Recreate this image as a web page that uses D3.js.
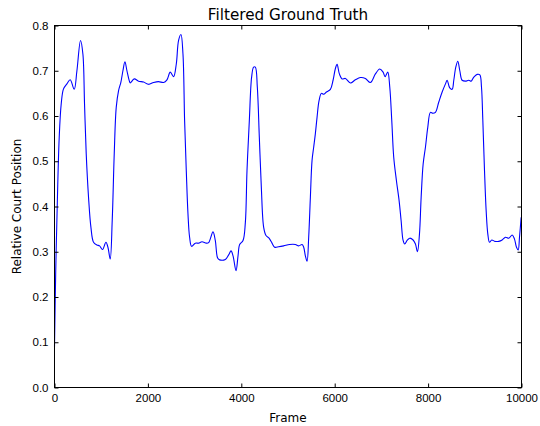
<!DOCTYPE html>
<html>
<head>
<meta charset="utf-8">
<script src="https://cdn.jsdelivr.net/npm/d3@7"></script>
<style>
  body { margin: 0; background: #fff; }
  svg { font-family: "DejaVu Sans", sans-serif; }
</style>
</head>
<body>
<div id="chart"></div>
<script>
// data (frame, relative court position)
const frames = [
  0, 25, 51, 101, 144, 193, 266, 336, 422, 480, 557, 608, 643, 679, 729, 780, 836, 908, 965, 1028,
  1101, 1144, 1193, 1236, 1279, 1322, 1372, 1422, 1465, 1508, 1551, 1607, 1622, 1708, 1800, 1907,
  2014, 2121, 2228, 2336, 2408, 2479, 2550, 2608, 2657, 2708, 2751, 2786, 2822, 2858, 2893, 2936,
  3015, 3086, 3158, 3251, 3300, 3394, 3443, 3493, 3536, 3658, 3729, 3780, 3823, 3887, 3930, 3965,
  4037, 4087, 4122, 4172, 4221, 4264, 4300, 4343, 4386, 4429, 4479, 4529, 4594, 4658, 4714, 4800,
  4907, 5035, 5157, 5229, 5301, 5336, 5372, 5408, 5443, 5479, 5515, 5550, 5586, 5622, 5665, 5715,
  5764, 5822, 5908, 5965, 6015, 6051, 6100, 6158, 6229, 6336, 6443, 6550, 6657, 6765, 6872, 6964,
  7036, 7079, 7136, 7179, 7222, 7264, 7322, 7379, 7422, 7465, 7500, 7551, 7607, 7679, 7729, 7772,
  7815, 7851, 7894, 7943, 7993, 8050, 8100, 8157, 8229, 8301, 8372, 8408, 8464, 8515, 8550, 8593,
  8636, 8679, 8729, 8800, 8872, 8922, 8979, 9051, 9108, 9143, 9172, 9208, 9243, 9279, 9315, 9364,
  9429, 9514, 9586, 9657, 9729, 9800, 9850, 9893, 9929, 9957, 9993
];
const positions = [
  0.09, 0.25, 0.369, 0.553, 0.627, 0.660, 0.671, 0.680, 0.659, 0.700, 0.767, 0.737, 0.627, 0.517, 0.420, 0.354, 0.321, 0.315, 0.313, 0.305,
  0.321, 0.310, 0.284, 0.369, 0.516, 0.619, 0.656, 0.675, 0.700, 0.720, 0.700, 0.676, 0.673, 0.682, 0.677, 0.675,
  0.670, 0.674, 0.676, 0.674, 0.680, 0.697, 0.687, 0.715, 0.767, 0.780, 0.737, 0.590, 0.479, 0.384, 0.332, 0.312,
  0.319, 0.319, 0.322, 0.319, 0.320, 0.344, 0.325, 0.286, 0.282, 0.283, 0.293, 0.302, 0.291, 0.258, 0.291, 0.316,
  0.325, 0.365, 0.479, 0.590, 0.686, 0.708, 0.708, 0.664, 0.553, 0.442, 0.354, 0.336, 0.330, 0.319, 0.310, 0.311,
  0.313, 0.316, 0.316, 0.313, 0.316, 0.310, 0.291, 0.279, 0.332, 0.420, 0.502, 0.531, 0.561, 0.597, 0.634, 0.650,
  0.648, 0.653, 0.659, 0.679, 0.705, 0.714, 0.693, 0.682, 0.683, 0.673, 0.680, 0.685, 0.683, 0.674, 0.693, 0.704,
  0.697, 0.687, 0.697, 0.664, 0.590, 0.509, 0.457, 0.413, 0.369, 0.325, 0.317, 0.325, 0.330, 0.326, 0.317, 0.300,
  0.339, 0.420, 0.494, 0.531, 0.575, 0.608, 0.606, 0.608, 0.631, 0.653, 0.671, 0.679, 0.662, 0.659, 0.679, 0.708,
  0.721, 0.700, 0.679, 0.677, 0.679, 0.677, 0.686, 0.692, 0.691, 0.664, 0.590, 0.479, 0.391, 0.339, 0.321, 0.326,
  0.323, 0.323, 0.326, 0.332, 0.330, 0.337, 0.328, 0.310, 0.304, 0.332, 0.376
];
const xTicks = [0, 2000, 4000, 6000, 8000, 10000];
const yTicks = [0, 0.1, 0.2, 0.3, 0.4, 0.5, 0.6, 0.7, 0.8];

// canvas
const width = 540;
const height = 426;
const plotLeft = 54.5, plotRight = 521.5, plotTop = 25.5, plotBottom = 387.5;

const svg = d3.select("#chart")
  .append("svg")
  .attr("width", width)
  .attr("height", height);

const x = d3.scaleLinear().domain([0, 10000]).range([plotLeft, plotRight]);
const y = d3.scaleLinear().domain([0, 0.8]).range([plotBottom, plotTop]);

const data = frames.map((f, i) => ({ f: f, v: positions[i] }));

// line
const line = d3.line()
  .x(d => x(d.f))
  .y(d => y(d.v))
  .curve(d3.curveCatmullRom.alpha(0.5));

svg.append("path")
  .datum(data)
  .attr("fill", "none")
  .attr("stroke", "#0000ff")
  .attr("stroke-width", 1.1)
  .attr("d", line);

// axes, ticks pointing in on all four sides
const styleAxis = g => {
  g.select(".domain").remove();
  g.selectAll(".tick line").attr("stroke", "#000").attr("stroke-width", 1);
  g.selectAll(".tick text").attr("fill", "#000").style("font-size", "11.5px");
};

svg.append("g")
  .attr("transform", "translate(0," + plotBottom + ")")
  .call(d3.axisBottom(x).tickValues(xTicks).tickFormat(d3.format("d")).tickSizeInner(-4).tickSizeOuter(0).tickPadding(6))
  .call(styleAxis);

svg.append("g")
  .attr("transform", "translate(0," + plotTop + ")")
  .call(d3.axisTop(x).tickValues(xTicks).tickFormat("").tickSizeInner(-4).tickSizeOuter(0))
  .call(styleAxis);

svg.append("g")
  .attr("transform", "translate(" + plotLeft + ",0)")
  .call(d3.axisLeft(y).tickValues(yTicks).tickFormat(d3.format(".1f")).tickSizeInner(-4).tickSizeOuter(0).tickPadding(6))
  .call(styleAxis);

svg.append("g")
  .attr("transform", "translate(" + plotRight + ",0)")
  .call(d3.axisRight(y).tickValues(yTicks).tickFormat("").tickSizeInner(-4).tickSizeOuter(0))
  .call(styleAxis);

// frame
svg.append("rect")
  .attr("x", plotLeft)
  .attr("y", plotTop)
  .attr("width", plotRight - plotLeft)
  .attr("height", plotBottom - plotTop)
  .attr("fill", "none")
  .attr("stroke", "#000")
  .attr("stroke-width", 1);

// titles
svg.append("text")
  .attr("x", (plotLeft + plotRight) / 2)
  .attr("y", 20)
  .attr("text-anchor", "middle")
  .style("font-size", "15.2px")
  .text("Filtered Ground Truth");

svg.append("text")
  .attr("x", (plotLeft + plotRight) / 2)
  .attr("y", 422)
  .attr("text-anchor", "middle")
  .style("font-size", "12px")
  .text("Frame");

svg.append("text")
  .attr("transform", "translate(21," + ((plotTop + plotBottom) / 2) + ") rotate(-90)")
  .attr("text-anchor", "middle")
  .style("font-size", "12px")
  .text("Relative Court Position");
</script>
</body>
</html>
